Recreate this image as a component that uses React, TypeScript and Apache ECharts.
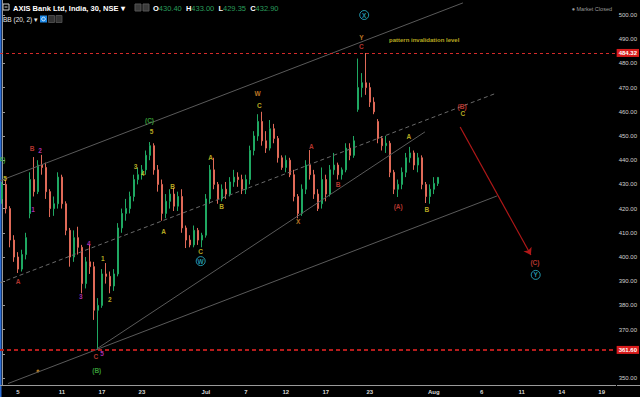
import React, { useEffect, useRef } from 'react';
import * as echarts from 'echarts';

// ---------- data ----------
const CATEGORY_COUNT = 154;
const tickIndex = [4, 15, 25, 35, 51, 61, 71, 81, 92, 108, 120, 130, 140, 150];
const tickLabels = ['5', '11', '17', '23', 'Jul', '7', '12', '17', '23', 'Aug', '6', '11', '14', '19'];

const opens = [
  424, 430, 420, 407, 400, 395, 401, 418, 432, 427, 438, 437, 427, 420, 422, 433, 422, 411, 400, 408,
  404, 389, 398, 396, 378, 380, 393, 392, 388, 393, 412, 418, 420, 425, 432, 434, 436, 442, 446, 436,
  430, 418, 423, 426, 421, 425, 412, 407, 405, 411, 407, 409, 424, 436, 430, 424, 428, 426, 431, 433,
  432, 428, 432, 444, 450, 456, 448, 445, 453, 449, 441, 437, 440, 434, 425, 418, 428, 438, 434, 426,
  422, 432, 426, 436, 438, 434, 436, 445, 442, 461, 470, 472, 470, 464, 456, 449, 446, 447, 435, 428,
  430, 435, 441, 443, 438, 441, 430, 425, 428, 430.4,
];
const closes = [
  430, 420, 407, 400, 395, 401, 408, 432, 427, 438, 437, 427, 420, 422, 433, 422, 411, 400, 408, 404,
  389, 398, 396, 378, 380, 393, 392, 388, 393, 412, 418, 420, 425, 432, 434, 436, 442, 446, 436, 430,
  418, 423, 426, 421, 425, 412, 407, 405, 411, 407, 409, 424, 436, 430, 424, 428, 426, 431, 433, 432,
  428, 432, 444, 450, 456, 448, 445, 453, 449, 441, 437, 440, 434, 425, 418, 428, 438, 434, 426, 420,
  432, 426, 436, 438, 434, 436, 445, 442, 448, 470, 472, 470, 464, 460, 449, 446, 447, 435, 428, 430,
  435, 441, 443, 438, 441, 430, 425, 428, 430.4, 432.9,
];
const highs = [
  431, 432, 421, 409, 402, 403, 410, 435, 441.3, 440, 442.2, 439, 428, 425, 435, 434, 423, 412, 411, 412.5,
  405, 400, 405, 398, 383, 395, 397.5, 394, 395, 414, 420, 424, 427, 434, 437, 438, 444, 447.5, 447, 438,
  432, 426, 428, 428.5, 427, 428, 413, 409, 413, 412, 410, 426, 438, 441, 431, 430, 431, 433, 436, 435,
  434, 434, 446, 452, 459, 460, 452, 456.6, 455, 450, 442, 442, 441, 436, 426, 430, 440, 444.2, 436, 428,
  437, 434, 438, 443, 439, 437, 447, 447, 450, 482, 476, 484.3, 472, 466, 457, 450, 450, 448, 436, 432,
  437, 443, 445.5, 444, 443, 442, 431, 430, 433, 433,
];
const lows = [
  422, 418, 404, 398, 393.4, 394, 399, 416, 425, 426, 434, 424, 416.5, 417, 420, 420, 409, 396, 398, 401,
  385, 387, 393, 374, 361.6, 379, 389, 385, 386, 392, 410, 415, 418, 423, 430, 432, 434, 440, 434, 427,
  415, 416, 420, 419, 419, 410, 403.7, 404, 404, 405, 404, 408, 422, 428, 422, 423, 424, 425, 429, 429,
  426, 426, 430, 442, 448, 446, 443, 444, 447, 439, 436, 435, 433, 423, 416, 417, 426, 432, 424, 419,
  420, 423, 425, 434, 432, 432, 435, 440, 441, 460, 466, 467, 462, 459, 447, 444, 443, 433, 426, 424.8,
  428, 433, 439, 436, 435, 428, 422.3, 422, 426, 429.35,
];

const lastPrice = 432.9;
const invalidationLevel = 484.32;
const swingLowLevel = 361.6;

const YELLOW = '#e3d62a';
const RED = '#e0443c';
const MAGENTA = '#d83bd8';
const GREEN = '#45c045';
const ORANGE = '#e8952e';
const CYAN = '#2bb8d2';

type Ann = { x: number; y: number; t: string; c: string; circle?: boolean; size?: number };
const waveLabels: Ann[] = [
  { x: -0.25, y: 440.1, t: '(A)', c: GREEN },
  { x: 0.75, y: 432.6, t: '5', c: YELLOW },
  { x: 4.0, y: 389.7, t: 'A', c: RED },
  { x: 7.5, y: 445.0, t: 'B', c: RED },
  { x: 9.5, y: 444.2, t: '2', c: MAGENTA },
  { x: 7.74, y: 419.8, t: '1', c: MAGENTA },
  { x: 21.7, y: 405.4, t: '4', c: MAGENTA },
  { x: 19.7, y: 383.5, t: '3', c: MAGENTA },
  { x: 25.2, y: 399.2, t: '1', c: YELLOW },
  { x: 27.0, y: 382.6, t: '2', c: YELLOW },
  { x: 23.5, y: 358.7, t: 'C', c: RED },
  { x: 25.0, y: 360.3, t: '5', c: MAGENTA },
  { x: 23.7, y: 352.9, t: '(B)', c: GREEN },
  { x: 36.9, y: 456.2, t: '(C)', c: GREEN },
  { x: 37.4, y: 451.7, t: '5', c: YELLOW },
  { x: 33.4, y: 437.2, t: '3', c: YELLOW },
  { x: 35.2, y: 434.7, t: '4', c: YELLOW },
  { x: 40.4, y: 410.7, t: 'A', c: YELLOW },
  { x: 42.7, y: 429.3, t: 'B', c: YELLOW },
  { x: 49.7, y: 402.1, t: 'C', c: YELLOW },
  { x: 49.7, y: 398.3, t: 'W', c: CYAN, circle: true },
  { x: 52.2, y: 441.3, t: 'A', c: YELLOW },
  { x: 54.9, y: 420.7, t: 'B', c: YELLOW },
  { x: 63.9, y: 467.4, t: 'W', c: ORANGE },
  { x: 64.4, y: 462.4, t: 'C', c: YELLOW },
  { x: 74.1, y: 414.5, t: 'X', c: ORANGE },
  { x: 77.4, y: 445.5, t: 'A', c: RED },
  { x: 84.1, y: 429.8, t: 'B', c: RED },
  { x: 90.6, y: 500.0, t: 'X', c: CYAN, circle: true },
  { x: 89.9, y: 490.9, t: 'Y', c: ORANGE },
  { x: 89.9, y: 486.8, t: 'C', c: RED },
  { x: 99.1, y: 420.7, t: '(A)', c: RED },
  { x: 101.8, y: 449.6, t: 'A', c: YELLOW },
  { x: 106.3, y: 419.8, t: 'B', c: YELLOW },
  { x: 115.1, y: 462.0, t: '(B)', c: RED },
  { x: 115.3, y: 459.1, t: 'C', c: YELLOW },
  { x: 133.3, y: 397.9, t: '(C)', c: RED },
  { x: 133.5, y: 392.6, t: 'Y', c: CYAN, circle: true },
  { x: 105.6, y: 489.7, t: 'pattern invalidation level', c: YELLOW, size: 6 },
];

const markerDots = [[9.0, 352.9]];

const trendLines = [
  { from: [-0.5, 431.5], to: [115.3, 505.0], dashed: false },
  { from: [-0.5, 389.3], to: [123.8, 467.8], dashed: true },
  { from: [1.5, 347.7], to: [123.8, 425.2], dashed: false },
  { from: [23.7, 362.0], to: [105.8, 451.7], dashed: false },
];
const projectionArrow = { from: [114.6, 453.7], to: [132.3, 400.8] };

// tick labels hidden because a price tag sits on top of them
const coveredTicks = [360];

const FONT = '"Liberation Sans", Arial, sans-serif';

export default function App() {
  const ref = useRef<HTMLDivElement>(null);

  useEffect(() => {
    if (!ref.current) return;
    const chart = echarts.init(ref.current, undefined, { renderer: 'svg' });

    const cats = Array.from({ length: CATEGORY_COUNT }, (_, i) => String(i));
    const candles = opens.map((o, i) => [o, closes[i], lows[i], highs[i]]);
    const labelMap = new Map<number, string>(tickIndex.map((t, k) => [t, tickLabels[k]]));

    const annData = waveLabels.map((a) => ({
      value: [a.x, a.y],
      label: {
        show: true,
        position: 'inside',
        formatter: a.t,
        color: a.c,
        fontSize: a.size ?? 6.5,
        fontWeight: 'bold',
        fontFamily: FONT,
        ...(a.circle
          ? {
              borderColor: a.c,
              borderWidth: 1,
              borderRadius: 5,
              width: 9,
              height: 9,
              lineHeight: 9,
              align: 'center',
              verticalAlign: 'middle',
              padding: 0,
            }
          : {}),
      },
    }));

    const lineItems: any[] = trendLines.map((l) => [
      {
        coord: l.from,
        symbol: 'none',
        lineStyle: { color: l.dashed ? '#6a6a6a' : '#5a5a5a', width: 1, type: l.dashed ? [4, 3] : 'solid' },
      },
      { coord: l.to, symbol: 'none' },
    ]);
    lineItems.push([
      {
        coord: projectionArrow.from,
        symbol: 'none',
        lineStyle: { color: '#b01818', width: 1.2, type: 'solid' },
      },
      { coord: projectionArrow.to, symbol: 'arrow', symbolSize: 7 },
    ]);

    const priceLine = (v: number, lineColor: string, bg: string, width: number, dash: number[], hide = false) => ({
      yAxis: v,
      symbol: 'none',
      lineStyle: { color: lineColor, width, type: dash, opacity: hide ? 0 : 1 },
      label: {
        show: true,
        position: 'end',
        distance: 1,
        formatter: v.toFixed(2),
        color: '#fff',
        backgroundColor: bg,
        padding: [1, 2, 1, 2],
        fontSize: 6,
        fontFamily: FONT,
        fontWeight: 'bold',
      },
    });

    const option: any = {
      animation: false,
      backgroundColor: '#000',
      grid: { left: 0, right: 23, top: 0, bottom: 12, containLabel: false },
      xAxis: [
        {
          type: 'category',
          data: cats,
          boundaryGap: true,
          axisLine: { show: true, lineStyle: { color: '#9a9a9a', width: 1 } },
          axisTick: { show: false },
          splitLine: { show: false },
          axisLabel: {
            color: '#d8d8d8',
            fontSize: 6,
            fontWeight: 'bold',
            fontFamily: FONT,
            margin: 4,
            interval: (index: number) => labelMap.has(index),
            formatter: (_v: string, index: number) => labelMap.get(index) ?? '',
          },
        },
        {
          type: 'value',
          min: -0.5,
          max: CATEGORY_COUNT - 0.5,
          show: false,
          gridIndex: 0,
        },
      ],
      yAxis: {
        type: 'value',
        position: 'right',
        min: 347.1,
        max: 506.2,
        splitNumber: 16,
        minInterval: 10,
        maxInterval: 10,
        axisLine: { show: true, lineStyle: { color: '#9a9a9a' } },
        axisTick: { show: true, length: 3, lineStyle: { color: '#9a9a9a' } },
        splitLine: { show: false },
        axisLabel: {
          color: '#d0d0d0',
          fontSize: 6,
          fontFamily: FONT,
          margin: 3,
          showMinLabel: false,
          showMaxLabel: false,
          formatter: (v: number) => (coveredTicks.includes(Math.round(v)) ? '' : v.toFixed(2)),
        },
      },
      series: [
        {
          type: 'candlestick',
          xAxisIndex: 0,
          yAxisIndex: 0,
          data: candles,
          barWidth: 1.6,
          itemStyle: {
            color: '#1fa862',
            color0: '#e06a58',
            borderColor: '#1fa862',
            borderColor0: '#e06a58',
            borderWidth: 1,
          },
        },
        {
          type: 'scatter',
          xAxisIndex: 1,
          yAxisIndex: 0,
          symbolSize: 1,
          itemStyle: { color: 'rgba(0,0,0,0)' },
          data: annData,
          z: 5,
          markLine: {
            silent: true,
            animation: false,
            symbol: ['none', 'none'],
            label: { show: false },
            data: [
              ...lineItems,
              priceLine(invalidationLevel, '#d42a2a', '#d91c1c', 1, [3, 3]),
              priceLine(swingLowLevel, '#b51c1c', '#d91c1c', 2, [4, 3]),
              priceLine(lastPrice, '#3a78e0', '#3a78e0', 1, [2, 2], true),
            ],
          },
        },
        {
          type: 'scatter',
          xAxisIndex: 1,
          yAxisIndex: 0,
          symbolSize: 3,
          itemStyle: { color: '#e89a20' },
          data: markerDots,
        },
      ],
      graphic: [
        { type: 'rect', shape: { x: 0, y: 0, width: 1.5, height: 397 }, style: { fill: '#2d6fd8' } },
        { type: 'line', shape: { x1: 617, y1: 385.5, x2: 640, y2: 385.5 }, style: { stroke: '#9a9a9a', lineWidth: 1 } },
        { type: 'rect', shape: { x: 3, y: 4, width: 6, height: 6 }, style: { fill: 'none', stroke: '#cfcfcf', lineWidth: 1 } },
        { type: 'line', shape: { x1: 4.5, y1: 7, x2: 7.5, y2: 7 }, style: { stroke: '#cfcfcf', lineWidth: 1 } },
        {
          type: 'text',
          x: 13,
          y: 8,
          style: {
            text: 'AXIS Bank Ltd, India, 30, NSE ▾',
            fill: '#ffffff',
            font: `bold 7.5px ${FONT}`,
            verticalAlign: 'middle',
          },
        },
        { type: 'rect', shape: { x: 135, y: 4, width: 6, height: 7 }, style: { fill: '#3a3a3a', stroke: '#555', lineWidth: 1 } },
        { type: 'rect', shape: { x: 143, y: 4, width: 6, height: 7 }, style: { fill: '#3a3a3a', stroke: '#555', lineWidth: 1 } },
        {
          type: 'text',
          x: 153,
          y: 8,
          style: {
            text: '{w|O}{g|430.40}  {w|H}{g|433.00}  {w|L}{g|429.35}  {w|C}{g|432.90}',
            verticalAlign: 'middle',
            font: `7.5px ${FONT}`,
            rich: {
              w: { fill: '#ffffff', font: `bold 7.5px ${FONT}` },
              g: { fill: '#2a9d5c', font: `7.5px ${FONT}` },
            },
          },
        },
        {
          type: 'text',
          x: 3,
          y: 19,
          style: { text: 'BB (20, 2) ▾', fill: '#e8e8e8', font: `6.5px ${FONT}`, verticalAlign: 'middle' },
        },
        { type: 'rect', shape: { x: 40, y: 15.5, width: 7, height: 7 }, style: { fill: '#1e88e5' } },
        { type: 'circle', shape: { cx: 43.5, cy: 19, r: 1.8 }, style: { fill: 'none', stroke: '#fff', lineWidth: 0.8 } },
        { type: 'rect', shape: { x: 48.5, y: 15.5, width: 6, height: 7 }, style: { fill: '#333', stroke: '#555', lineWidth: 0.8 } },
        { type: 'rect', shape: { x: 56, y: 15.5, width: 6, height: 7 }, style: { fill: '#333', stroke: '#555', lineWidth: 0.8 } },
        {
          type: 'text',
          x: 612,
          y: 9,
          style: {
            text: '● Market Closed',
            fill: '#9a9a9a',
            font: `5.5px ${FONT}`,
            align: 'right',
            verticalAlign: 'middle',
          },
        },
      ],
    };

    chart.setOption(option);
    return () => chart.dispose();
  }, []);

  return (
    <div
      ref={ref}
      style={{ position: 'fixed', left: 0, top: 0, width: 640, height: 397, background: '#000' }}
    />
  );
}
